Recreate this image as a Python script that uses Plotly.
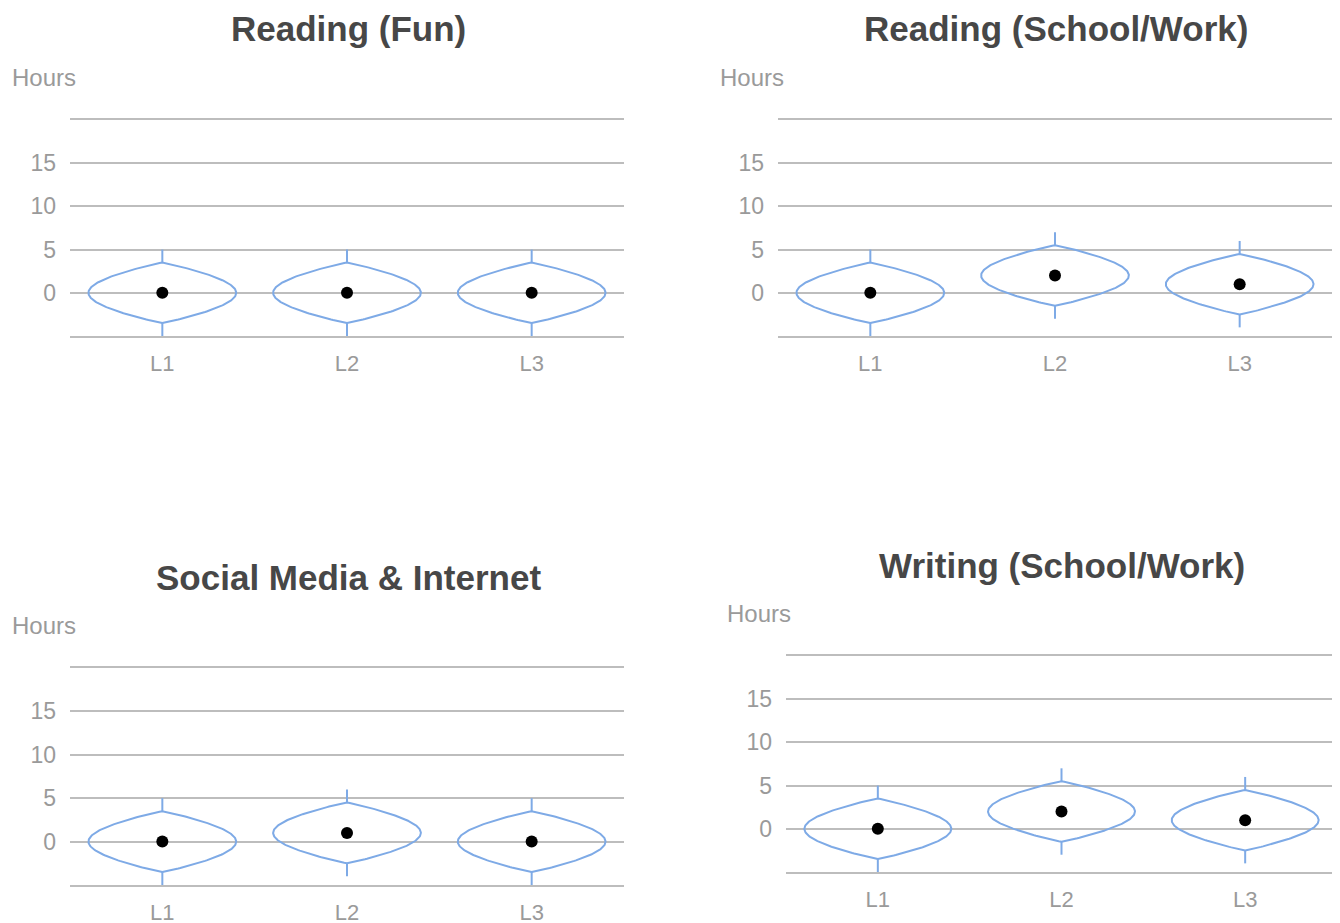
import numpy as np
import plotly.graph_objects as go

# ---- data ----
categories = ["L1", "L2", "L3"]
titles = ["Reading (Fun)", "Reading (School/Work)", "Social Media & Internet", "Writing (School/Work)"]
centers_reading_fun = [0, 0, 0]
centers_reading_school = [0, 2, 1]
centers_social = [0, 1, 0]
centers_writing = [0, 2, 1]
lens_half_height = [3.5, 3.5, 3.5]
whisker_half = [5, 5, 5]
y_tickvals = [-5, 0, 5, 10, 15, 20]
y_ticktext = ["", "0", "5", "10", "15", ""]
y_title = "Hours"

panels = [centers_reading_fun, centers_reading_school, centers_social, centers_writing]

# ---- layout geometry (pixels in the screenshot; page body has an 8px offset) ----
W, H = 1340, 923
OFF = 8
# (x0, x1, ytop(20), ybottom(-5)) in pixels
boxes = [(70, 624, 120, 336), (778, 1332, 120, 336), (70, 624, 668, 885), (786, 1337, 656, 872)]
title_pos = [(348, 28), (1056, 28), (348, 577), (1062, 565)]
hours_pos = [(10, 77), (718, 77), (10, 625), (725, 613)]

BLUE = "#7eaae6"
GRID = "#bdbdbd"
TXT = "#9a9a9a"
FONT = "Liberation Sans, Arial, sans-serif"


def px_x(x):
    return (x - OFF) / W


def px_y(y):
    return 1 - (y - OFF) / H


fig = go.Figure()
layout = dict(width=W, height=H, margin=dict(l=0, r=0, t=0, b=0),
              paper_bgcolor="white", plot_bgcolor="white", showlegend=False,
              annotations=[])

half_w = 0.4
for i, centers in enumerate(panels):
    xa = "x" if i == 0 else f"x{i+1}"
    ya = "y" if i == 0 else f"y{i+1}"
    for j, c in enumerate(centers):
        h = lens_half_height[j]
        wh = whisker_half[j]
        t = np.linspace(-h, h, 121)
        w = half_w * np.cos(np.pi * t / (2 * h)) ** 0.9
        xs = np.concatenate([j + w, (j - w)[::-1], [j + w[0]]])
        ys = np.concatenate([c + t, (c + t)[::-1], [c + t[0]]])
        fig.add_trace(go.Scatter(x=xs, y=ys, mode="lines", line=dict(color=BLUE, width=2),
                                 xaxis=xa, yaxis=ya, hoverinfo="skip"))
        fig.add_trace(go.Scatter(x=[j, j, None, j, j], y=[c + h, c + wh, None, c - h, c - wh],
                                 mode="lines", line=dict(color=BLUE, width=2),
                                 xaxis=xa, yaxis=ya, hoverinfo="skip"))
    fig.add_trace(go.Scatter(x=list(range(len(categories))), y=centers, mode="markers",
                             marker=dict(color="black", size=12), xaxis=xa, yaxis=ya))

    x0, x1, yt, yb = boxes[i]
    xkey = "xaxis" if i == 0 else f"xaxis{i+1}"
    ykey = "yaxis" if i == 0 else f"yaxis{i+1}"
    layout[xkey] = dict(domain=[px_x(x0), px_x(x1)], range=[-0.5, 2.5], anchor=ya,
                        tickvals=list(range(len(categories))), ticktext=categories,
                        showgrid=False, zeroline=False, showline=True, mirror=True,
                        linecolor=GRID, linewidth=2, ticks="",
                        ticklabelstandoff=7,
                        tickfont=dict(family=FONT, size=22, color=TXT), fixedrange=True)
    layout[ykey] = dict(domain=[px_y(yb), px_y(yt)], range=[-5, 20], anchor=xa,
                        tickvals=y_tickvals, ticktext=y_ticktext,
                        showgrid=True, gridcolor=GRID, gridwidth=2, zeroline=False,
                        showline=False, ticks="", ticklabelstandoff=13,
                        tickfont=dict(family=FONT, size=23, color=TXT), fixedrange=True)
    tx, ty = title_pos[i]
    layout["annotations"].append(dict(text=f"<b>{titles[i]}</b>", x=px_x(tx), y=px_y(ty),
                                      xref="paper", yref="paper", showarrow=False,
                                      xanchor="center", yanchor="middle",
                                      font=dict(family=FONT, size=35, color="#474747")))
    hx, hy = hours_pos[i]
    layout["annotations"].append(dict(text=y_title, x=px_x(hx), y=px_y(hy),
                                      xref="paper", yref="paper", showarrow=False,
                                      xanchor="left", yanchor="middle",
                                      font=dict(family=FONT, size=24, color=TXT)))

fig.update_layout(**layout)
fig.write_html("out.html")
